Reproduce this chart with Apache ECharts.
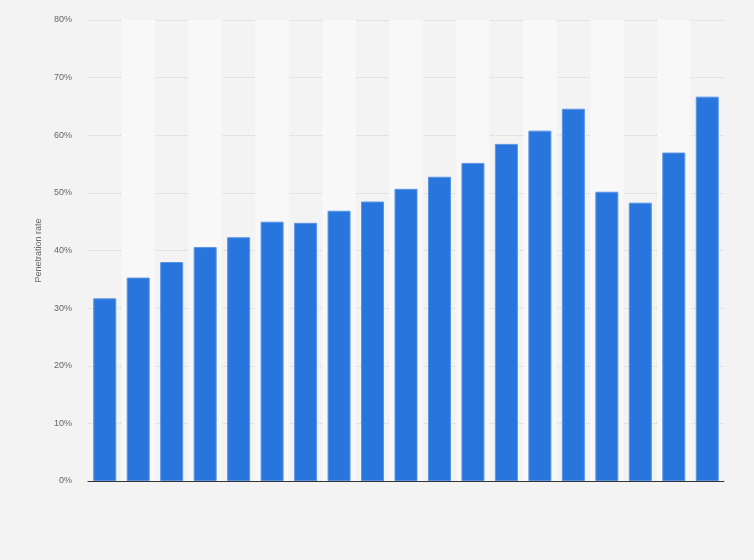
<!DOCTYPE html>
<html>
<head>
<meta charset="utf-8">
<script src="https://cdn.jsdelivr.net/npm/echarts@6/dist/echarts.min.js"></script>
<style>
html,body{margin:0;padding:0;background:#f3f3f3;}
#chart{width:754px;height:560px;}
</style>
</head>
<body>
<div id="chart"></div>
<script>
const categories = ['1','2','3','4','5','6','7','8','9','10','11','12','13','14','15','16','17','18','19'];
const penetrationRate = [31.7, 35.3, 38.0, 40.6, 42.3, 45.0, 44.8, 46.9, 48.5, 50.7, 52.8, 55.2, 58.5, 60.8, 64.6, 50.2, 48.3, 57.0, 66.7];
const yTicks = { min: 0, max: 80, interval: 10 };
const yAxisName = 'Penetration rate';

const chart = echarts.init(document.getElementById('chart'), null, { renderer: 'canvas' });
chart.setOption({
  backgroundColor: '#f3f3f3',
  animation: false,
  grid: { left: 88, right: 30, top: 20, bottom: 79, containLabel: false },
  xAxis: {
    type: 'category',
    data: categories,
    axisLine: { show: true, lineStyle: { color: '#333', width: 1 } },
    axisTick: { show: false },
    axisLabel: { show: false },
    splitArea: { show: true, areaStyle: { color: ['rgba(0,0,0,0)', '#f8f8f8'] } }
  },
  yAxis: {
    type: 'value',
    min: yTicks.min, max: yTicks.max, interval: yTicks.interval,
    name: yAxisName,
    nameLocation: 'middle',
    nameGap: 43,
    nameTextStyle: { color: '#666', fontSize: 9, fontFamily: 'Arial, Liberation Sans, sans-serif' },
    axisLine: { show: false },
    axisTick: { show: false },
    axisLabel: { formatter: '{value}%', color: '#666', fontSize: 9, margin: 16, fontFamily: 'Arial, Liberation Sans, sans-serif' },
    splitLine: { show: true, lineStyle: { color: '#d4d4d4', type: [1, 1], width: 1 } }
  },
  series: [{
    type: 'bar',
    data: penetrationRate,
    barWidth: 23,
    itemStyle: { color: '#2876dd', borderColor: '#5a95e5', borderWidth: 1 }
  }]
});
</script>
</body>
</html>
